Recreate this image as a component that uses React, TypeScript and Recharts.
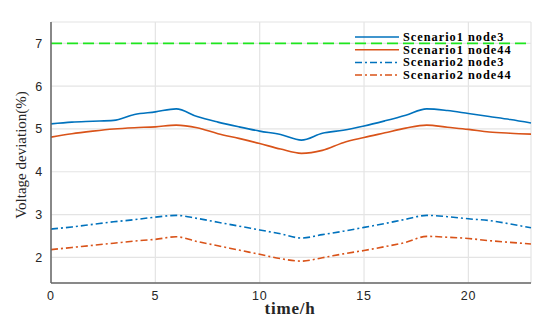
import { LineChart, Line, XAxis, YAxis, CartesianGrid, ReferenceLine } from 'recharts';

const hours = [0, 1, 2, 3, 4, 5, 6, 7, 8, 9, 10, 11, 12, 13, 14, 15, 16, 17, 18, 19, 20, 21, 22, 23];
const s1Node3 = [5.12, 5.16, 5.18, 5.2, 5.34, 5.4, 5.47, 5.29, 5.16, 5.05, 4.95, 4.87, 4.74, 4.9, 4.97, 5.07, 5.19, 5.32, 5.47, 5.43, 5.36, 5.29, 5.22, 5.14];
const s1Node44 = [4.81, 4.89, 4.95, 5.0, 5.03, 5.05, 5.09, 5.03, 4.89, 4.78, 4.66, 4.53, 4.43, 4.5, 4.68, 4.8, 4.91, 5.02, 5.09, 5.04, 4.99, 4.93, 4.9, 4.88];
const s2Node3 = [2.66, 2.71, 2.77, 2.83, 2.88, 2.94, 2.98, 2.91, 2.82, 2.73, 2.64, 2.55, 2.45, 2.53, 2.61, 2.7, 2.79, 2.89, 2.98, 2.95, 2.9, 2.86, 2.78, 2.69];
const s2Node44 = [2.18, 2.23, 2.28, 2.33, 2.38, 2.42, 2.48, 2.37, 2.27, 2.17, 2.07, 1.97, 1.91, 1.99, 2.08, 2.16, 2.25, 2.35, 2.49, 2.47, 2.44, 2.39, 2.35, 2.31];
const xTicks = [0, 5, 10, 15, 20];
const yTicks = [2, 3, 4, 5, 6, 7];
const limit = 7;

const BLUE = '#0072BD';
const ORANGE = '#D95319';
const DASHDOT = '7 3 2 3';

const series = [
  { key: 's1n3', name: 'Scenario1 node3', color: BLUE, dash: undefined },
  { key: 's1n44', name: 'Scenario1 node44', color: ORANGE, dash: undefined },
  { key: 's2n3', name: 'Scenario2 node3', color: BLUE, dash: DASHDOT },
  { key: 's2n44', name: 'Scenario2 node44', color: ORANGE, dash: DASHDOT },
];

const data = hours.map((h, i) => ({
  h,
  s1n3: s1Node3[i],
  s1n44: s1Node44[i],
  s2n3: s2Node3[i],
  s2n44: s2Node44[i],
}));

const serif = 'Liberation Serif, Times New Roman, serif';
const tickStyle = { fontSize: 12.5, fill: '#262626', fontFamily: 'Liberation Sans, Arial, sans-serif', letterSpacing: 0.8 };

function LegendBox() {
  return (
    <svg width={180} height={56} style={{ position: 'absolute', left: 350, top: 28 }}>
      {series.map((s, i) => {
        const y = 9 + i * 12.7;
        return (
          <g key={s.key}>
            <line x1={5} x2={49} y1={y} y2={y} stroke={s.color} strokeWidth={1.5} strokeDasharray={s.dash} />
            <text
              x={53}
              y={y + 4}
              fontFamily={serif}
              fontWeight="bold"
              fontSize={12.3}
              letterSpacing={1}
              fill="#000"
            >
              {s.name}
            </text>
          </g>
        );
      })}
    </svg>
  );
}

export default function App() {
  return (
    <div style={{ position: 'absolute', left: 0, top: 0, width: 550, height: 328, background: '#fff' }}>
      <LineChart width={550} height={328} data={data} margin={{ top: 22, right: 19, left: 0, bottom: 0 }}>
        <CartesianGrid stroke="#e4e4e4" strokeWidth={1.2} />
        <XAxis
          dataKey="h"
          type="number"
          domain={[0, 23]}
          ticks={xTicks}
          height={45}
          tick={tickStyle}
          tickLine={false}
          axisLine={{ stroke: '#666', strokeWidth: 1.5 }}
          label={{
            value: 'time/h',
            content: () => (
              <text
                x={290}
                y={314}
                textAnchor="middle"
                fontFamily={serif}
                fontSize={17}
                fontWeight="bold"
                letterSpacing={0.8}
                fill="#262626"
              >
                time/h
              </text>
            ),
          }}
        />
        <YAxis
          type="number"
          domain={[1.4, 7.5]}
          ticks={yTicks}
          width={51}
          tick={tickStyle}
          tickLine={false}
          axisLine={{ stroke: '#666', strokeWidth: 1.5 }}
          label={{
            value: 'Voltage deviation(%)',
            content: () => (
              <text
                x={26}
                y={155}
                transform="rotate(-90 26 155)"
                textAnchor="middle"
                fontFamily={serif}
                fontSize={15}
                fill="#262626"
              >
                Voltage deviation(%)
              </text>
            ),
          }}
        />
        <ReferenceLine y={limit} stroke="#1ee61e" strokeWidth={1.8} strokeDasharray="11 5" />
        {series.map((s) => (
          <Line
            key={s.key}
            type="monotone"
            dataKey={s.key}
            name={s.name}
            stroke={s.color}
            strokeWidth={1.6}
            strokeDasharray={s.dash}
            dot={false}
            activeDot={false}
            isAnimationActive={false}
          />
        ))}
      </LineChart>
      <LegendBox />
    </div>
  );
}
